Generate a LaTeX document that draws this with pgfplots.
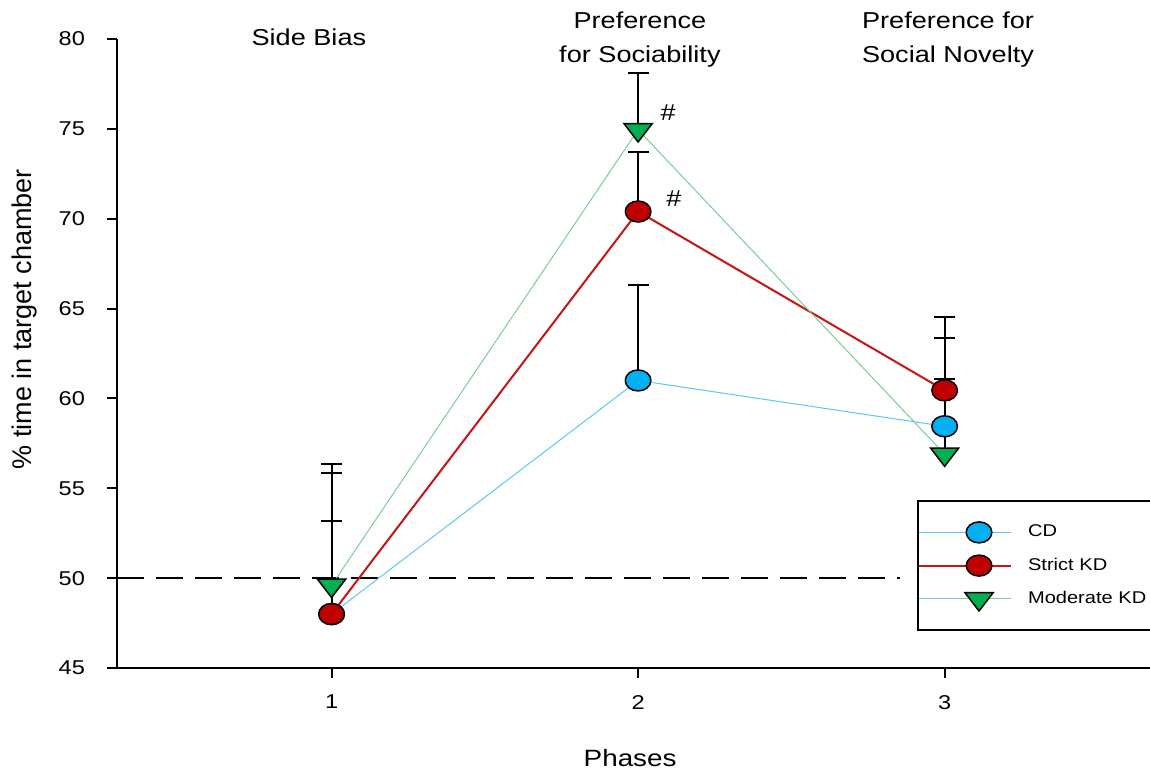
\documentclass[border=0pt]{standalone}
\usepackage{fontspec}
\setmainfont{Liberation Sans}[FakeStretch=1.18]
\newfontfamily\plainfont{Liberation Sans}
\usepackage{pgfplots}
\pgfplotsset{compat=1.18}
\definecolor{cdfill}{RGB}{0,176,240}
\definecolor{cdline}{RGB}{90,200,240}
\definecolor{skfill}{RGB}{192,0,0}
\definecolor{skline}{RGB}{200,20,20}
\definecolor{mkfill}{RGB}{0,176,80}
\definecolor{mkline}{RGB}{120,205,150}
\begin{document}
\begin{tikzpicture}
\begin{axis}[
  at={(0,0)}, anchor=south west,
  scale only axis, width=516.5pt, height=314.5pt,
  xmin=0.3, xmax=3.67, ymin=45, ymax=80,
  axis x line*=bottom, axis y line*=left,
  axis line style={line width=1pt,-},
  xtick={1,2,3}, ytick={45,50,...,80},
  tick align=outside, major tick length=5pt,
  tick style={line width=1pt, black},
  /pgf/number format/assume math mode=true,
  ticklabel style={font=\fontsize{10}{12}\selectfont},
  yticklabel style={xshift=-7.5pt},
  xticklabel style={yshift=-5pt},
  clip=false,
  legend style={at={(axis cs:2.91,54.36)}, anchor=north west, draw=black, line width=1pt,
    font=\fontsize{8.5}{10}\selectfont, inner xsep=0pt, inner ysep=7.5pt,
    row sep=0pt, cells={anchor=west},
    nodes={text width=62pt, minimum height=16.6pt, inner xsep=0pt, inner ysep=0pt},
    /tikz/every odd column/.append style={column sep=8pt}},
  legend image code/.code={
    \path (-14pt,0pt) -- (32pt,0pt);
    \draw[mark repeat=2, mark phase=2] plot coordinates {(0pt,0pt) (16pt,0pt) (32pt,0pt)};
  },
]
% reference line
\addplot[forget plot, black, line width=1pt, dash pattern=on 13.5pt off 6pt] coordinates {(0.3,50) (2.855,50)};
% CD
\addplot[cdline, line width=0.5pt, mark=*, mark size=5.25pt,
  mark options={xscale=1.22, draw=black, fill=cdfill, line width=0.75pt, solid}]
  coordinates {(1,48.0) (2,61.0) (3,58.45)};
\addlegendentry{CD}
% Strict KD
\addplot[skline, line width=1pt, mark=*, mark size=5.25pt,
  mark options={xscale=1.22, draw=black, fill=skfill, line width=0.75pt, solid}]
  coordinates {(1,48.0) (2,70.4) (3,60.45)};
\addlegendentry{Strict KD}
% Moderate KD
\addplot[mkline, line width=0.5pt, mark=triangle*, mark size=6.1pt,
  mark options={rotate=180, xscale=1.33, draw=black, fill=mkfill, line width=0.75pt, solid}]
  coordinates {(1,49.6) (2,74.95) (3,56.9)};
\addlegendentry{Moderate KD}
% error bars (upper SEM): stems
\addplot[forget plot, black, line width=1pt, unbounded coords=jump] coordinates {
  (1,48.0) (1,55.85) (1,nan)
  (2,61.0) (2,66.3) (2,nan)
  (3,58.45) (3,63.35) (3,nan)
  (1,48.0) (1,53.2) (1,nan)
  (2,70.4) (2,73.7) (2,nan)
  (3,60.45) (3,64.55) (3,nan)
  (1,49.6) (1,56.35) (1,nan)
  (2,74.95) (2,78.1) (2,nan)
  (3,56.9) (3,61.1)
};
% caps
\addplot[forget plot, only marks, mark=-, mark size=5.25pt, mark options={black, line width=1pt}] coordinates {
  (1,55.85) (2,66.3) (3,63.35)
  (1,53.2) (2,73.7) (3,64.55)
  (1,56.35) (2,78.1) (3,61.1)
};
% annotations
\node[font=\fontsize{11.5}{13}\selectfont] at (axis cs:2.098,75.88) {\#};
\node[font=\fontsize{11.5}{13}\selectfont] at (axis cs:2.117,71.09) {\#};
\node[anchor=base, font=\fontsize{11.5}{13}\selectfont] at (axis cs:0.926,79.62) {Side Bias};
\node[anchor=base, font=\fontsize{11.5}{13}\selectfont] at (axis cs:2.006,80.56) {Preference};
\node[anchor=base, font=\fontsize{11.5}{13}\selectfont] at (axis cs:2.006,78.72) {for Sociability};
\node[anchor=base, font=\fontsize{11.5}{13}\selectfont] at (axis cs:3.011,80.56) {Preference for};
\node[anchor=base, font=\fontsize{11.5}{13}\selectfont] at (axis cs:3.011,78.72) {Social Novelty};
\node[font=\fontsize{11.8}{14}\selectfont] at (axis cs:1.974,39.98) {Phases};
\node[rotate=90, font=\plainfont\fontsize{13.5}{16}\selectfont] at (axis cs:-0.003,64.4) {\% time in target chamber};
\end{axis}
\pgfresetboundingbox
\path[use as bounding box] (-58.5pt,-51.5pt) rectangle (516.5pt,334pt);
\end{tikzpicture}
\end{document}
